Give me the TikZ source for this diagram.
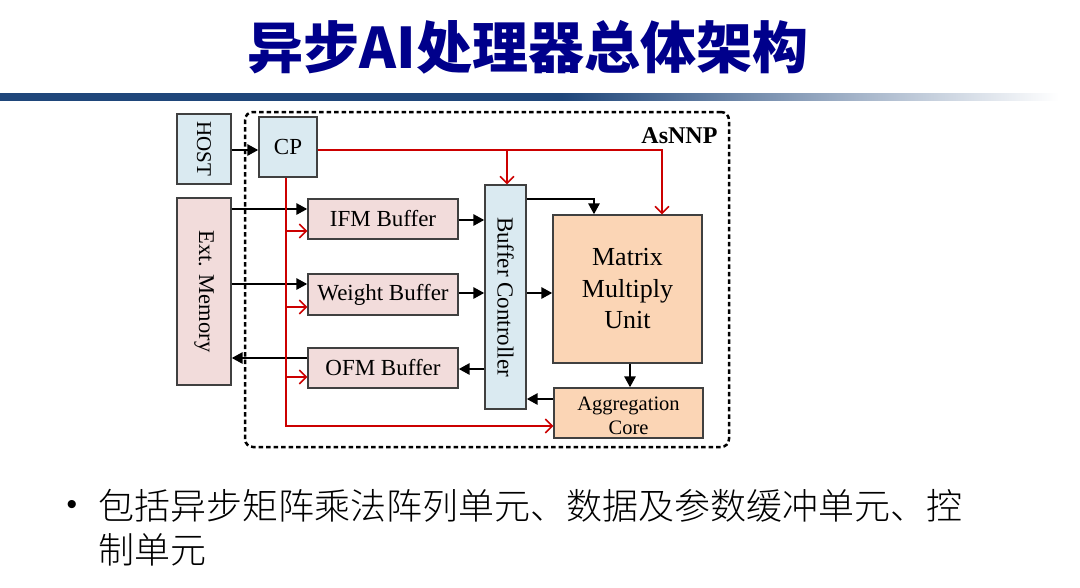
\documentclass[tikz,border=0pt]{standalone}
\usepackage{fontspec}
\setmainfont{Liberation Serif}
\newfontfamily\cjk{Noto Sans CJK SC}
\newfontfamily\cjkl{Noto Sans CJK SC}[UprightFont=* Light]
\newfontfamily\arialf{Liberation Sans}
\usetikzlibrary{arrows.meta,calc}
\definecolor{lblue}{RGB}{218,234,241}
\definecolor{lpink}{RGB}{242,220,219}
\definecolor{lpeach}{RGB}{251,213,181}
\definecolor{boxgray}{RGB}{64,64,64}
\definecolor{redc}{RGB}{204,0,0}
\definecolor{barblue}{RGB}{31,70,122}
\definecolor{titleblue}{RGB}{0,0,139}
\pgfdeclarehorizontalshading{barshade}{100bp}{color(0bp)=(barblue); color(51bp)=(barblue); color(74bp)=(white); color(100bp)=(white)}
\tikzset{
  box/.style={draw=boxgray, line width=1.3pt, inner sep=0pt, anchor=center},
  bluebox/.style={box, fill=lblue},
  pinkbox/.style={box, fill=lpink},
  peachbox/.style={box, fill=lpeach},
  dfont/.style={font=\fontsize{23}{25}\selectfont},
  blk/.style={draw=black, line width=2.8pt, -{Triangle[length=11pt,width=11pt]}},
  redarrow/.style={draw=redc, line width=1.5pt, -{Straight Barb[length=7pt,width=14pt]}},
  vlabel/.style={rotate=-90, font=\fontsize{22.5}{24}\selectfont}
}
\begin{document}
\begin{tikzpicture}[x=1pt,y=1pt]
\useasboundingbox (0,0) rectangle (1080,-587);
\fill[white] (0,0) rectangle (1080,-587);

% title
\node[font=\cjk\bfseries\fontsize{56}{60}\selectfont, text=titleblue, anchor=center] (title) at (528,-47) {异步AI处理器总体架构};
% bar
\shade[shading=barshade] (0,-93) rectangle (1080,-100);

% frame
\node[draw=black, line width=2.5pt, dash pattern=on 4.5pt off 3pt, rounded corners=8pt,
      minimum width=484pt, minimum height=335pt, inner sep=0pt] (frame) at (487,-279.5) {};
\node[font=\bfseries\fontsize{24}{26}\selectfont, anchor=base east] (asnnp) at (721,-143) {AsNNP};

% boxes
\node[bluebox, minimum width=54pt, minimum height=70pt,
      label={[vlabel, font=\fontsize{21}{23}\selectfont]center:HOST}] (host) at (204,-149) {};
\node[bluebox, dfont, minimum width=58pt, minimum height=60pt] (cp) at (288,-147) {CP};
\node[pinkbox, minimum width=54pt, minimum height=187pt,
      label={[vlabel]center:Ext. Memory}] (ext) at (204,-291.5) {};
\node[pinkbox, dfont, minimum width=150pt, minimum height=40pt] (ifm) at (383,-219) {IFM Buffer};
\node[pinkbox, dfont, minimum width=150pt, minimum height=41pt] (wgt) at (383,-294.5) {Weight Buffer};
\node[pinkbox, dfont, minimum width=150pt, minimum height=40pt] (ofm) at (383,-368) {OFM Buffer};
\node[bluebox, minimum width=41pt, minimum height=224pt,
      label={[vlabel, font=\fontsize{23}{25}\selectfont]center:Buffer Controller}] (bc) at (505.5,-297) {};
\node[peachbox, minimum width=149pt, minimum height=148pt, align=center,
      font=\fontsize{26}{31.5}\selectfont] (mmu) at (627.5,-289) {Matrix\\Multiply\\Unit};
\node[peachbox, minimum width=149pt, minimum height=50pt,
      label={[align=center, font=\fontsize{20.5}{24}\selectfont, yshift=-2.5pt]center:Aggregation\\Core}] (agg) at (628.5,-413) {};

% black connectors
\coordinate (cpR) at (cp.east |- 0,-150);
\draw[blk] (host.east |- cpR) -- (cp.west |- cpR);
\coordinate (i1) at ($(ifm.west)+(0,10)$);
\draw[blk] (ext.east |- i1) -- (i1);
\coordinate (w1) at ($(wgt.west)+(0,10.5)$);
\draw[blk] (ext.east |- w1) -- (w1);
\coordinate (o1) at ($(ofm.west)+(0,10)$);
\draw[blk] (o1) -- (ext.east |- o1);
\draw[blk] (ifm.east |- 0,-220) -- (bc.west |- 0,-220);
\draw[blk] (wgt.east |- 0,-293) -- (bc.west |- 0,-293);
\draw[blk] (bc.west |- 0,-369) -- (ofm.east |- 0,-369);
\draw[blk] (bc.east |- 0,-293) -- (mmu.west |- 0,-293);
\coordinate (b1) at (594,-199);
\draw[blk] (bc.east |- b1) -- (b1) -- (b1 |- mmu.north);
\draw[blk] (mmu.south -| 630,0) -- (agg.north -| 630,0);
\coordinate (a1) at ($(agg.west)+(0,14)$);
\draw[blk] (a1) -- (bc.east |- a1);

% red connectors
\coordinate (t1) at (662,-150);
\coordinate (t2) at (507,-150);
\draw[redarrow] (cpR) -- (t1) -- (t1 |- mmu.north);
\draw[redarrow] (t2) -- (t2 |- bc.north);
\coordinate (cpB) at ($(cp.south)+(-2,0)$);
\coordinate (c4) at (cpB |- 0,-426);
\draw[redarrow] (cpB) -- (c4) -- (c4 -| agg.west);
\foreach \n/\dy in {ifm/-12, wgt/-12.5, ofm/-9}{
  \coordinate (q) at ($(\n.west)+(0,\dy)$);
  \draw[redarrow] (cpB |- q) -- (q);
}

% bullet text
\node[font=\arialf\fontsize{30}{32}\selectfont, anchor=center] (bul) at (72,-507) {•};
\node[font=\cjkl\fontsize{36}{44}\selectfont, anchor=base west, inner sep=0pt] (l1) at (98,-519) {包括异步矩阵乘法阵列单元、数据及参数缓冲单元、控};
\node[font=\cjkl\fontsize{36}{44}\selectfont, anchor=base west, inner sep=0pt] (l2) at (98,-563) {制单元};
\end{tikzpicture}
\end{document}
